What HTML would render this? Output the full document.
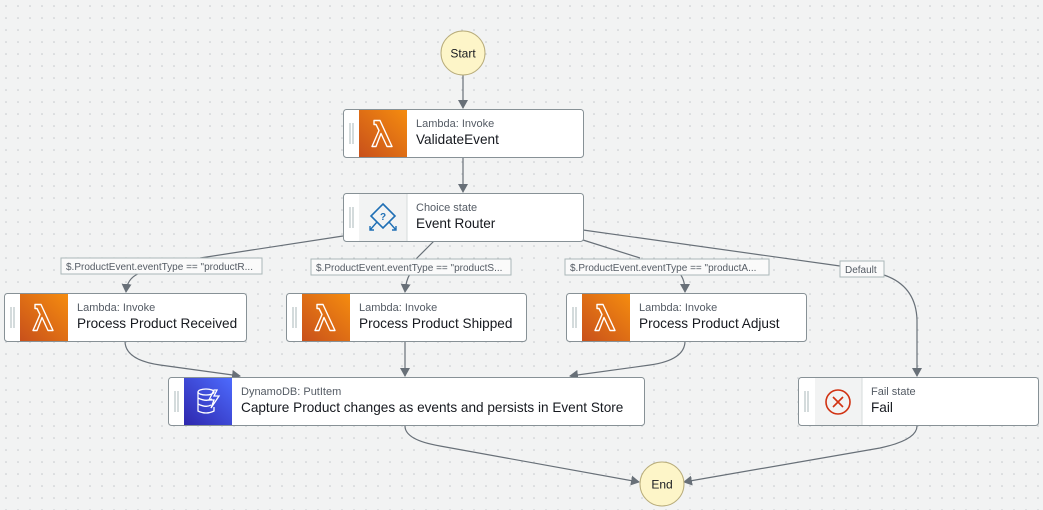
<!DOCTYPE html>
<html><head><meta charset="utf-8">
<style>
html,body{margin:0;padding:0;width:1043px;height:510px;overflow:hidden;background:#f2f3f3;}
svg{display:block;font-family:"Liberation Sans",sans-serif;}
.sub{font-size:11px;fill:#545b64;}
.ttl{font-size:13.6px;fill:#16191f;}
.lbl{font-size:10px;fill:#545b64;}
.edge{fill:none;stroke:#687078;stroke-width:1.2;}
</style></head><body>
<svg width="1043" height="510" viewBox="0 0 1043 510" xmlns="http://www.w3.org/2000/svg">
<defs>
<pattern id="dots" width="12" height="12" patternUnits="userSpaceOnUse">
<circle cx="6" cy="6" r="0.8" fill="#c3c7ca"/></pattern>
<marker id="ar" markerWidth="10" markerHeight="10" refX="8" refY="5" orient="auto" markerUnits="userSpaceOnUse">
<path d="M0,0 L9,5 L0,10 z" fill="#687078"/></marker>
<linearGradient id="or" x1="1" y1="0" x2="0" y2="1"><stop offset="0" stop-color="#f58c0f"/><stop offset="1" stop-color="#c8501b"/></linearGradient>
<linearGradient id="bl" x1="1" y1="0" x2="0" y2="1"><stop offset="0" stop-color="#4d6bfe"/><stop offset="1" stop-color="#2e27ad"/></linearGradient>
<g id="lam"><path d="M-9,-13 L-3,-13 L9,13 L4,13 L-2,0 L-7,13 L-11,13 L-4,-3 L-7,-9 L-9,-9 Z" fill="none" stroke="#fff" stroke-width="1.4" stroke-linejoin="round"/></g>
</defs>
<rect width="1043" height="510" fill="url(#dots)"/>

<path class="edge" d="M463,75 L463,108" marker-end="url(#ar)"/>
<path class="edge" d="M463,157 L463,192" marker-end="url(#ar)"/>
<path class="edge" d="M343,236 L200,258"/>
<path class="edge" d="M140,273 Q127,278 126,292" marker-end="url(#ar)"/>
<path class="edge" d="M434,241 L416,259"/>
<path class="edge" d="M410,274 Q406,280 405,292" marker-end="url(#ar)"/>
<path class="edge" d="M583,240 L640,258"/>
<path class="edge" d="M680,274 Q685,280 685,292" marker-end="url(#ar)"/>
<path class="edge" d="M583,230 L840,266"/>
<path class="edge" d="M884,275 Q916,286 917,320 L917,376" marker-end="url(#ar)"/>
<path class="edge" d="M125,341 Q125,360 160,365 L240,376" marker-end="url(#ar)"/>
<path class="edge" d="M405,341 L405,376" marker-end="url(#ar)"/>
<path class="edge" d="M685,341 Q685,360 650,365 L570,376" marker-end="url(#ar)"/>
<path class="edge" d="M405,426 Q405,440 440,446 L639,482" marker-end="url(#ar)"/>
<path class="edge" d="M917,426 Q917,440 880,448 L684,482" marker-end="url(#ar)"/>

<rect x="61" y="258" width="201" height="16" fill="#fafafa" stroke="#aab7b8"/>
<text class="lbl" x="66" y="270">$.ProductEvent.eventType == "productR...</text>
<rect x="311" y="259" width="200" height="16" fill="#fafafa" stroke="#aab7b8"/>
<text class="lbl" x="316" y="271">$.ProductEvent.eventType == "productS...</text>
<rect x="565" y="259" width="204" height="16" fill="#fafafa" stroke="#aab7b8"/>
<text class="lbl" x="570" y="271">$.ProductEvent.eventType == "productA...</text>
<rect x="840" y="261" width="44" height="16" fill="#fafafa" stroke="#aab7b8"/>
<text class="lbl" x="845" y="273">Default</text>

<circle cx="463" cy="53" r="22" fill="#fdf5c8" stroke="#b8ac7a"/>
<text x="463" y="57.5" text-anchor="middle" font-size="12" fill="#16191f">Start</text>
<circle cx="662" cy="484" r="22" fill="#fdf5c8" stroke="#b8ac7a"/>
<text x="662" y="488.5" text-anchor="middle" font-size="12" fill="#16191f">End</text>

<g transform="translate(343,109)">
<rect x="0.5" y="0.5" width="240" height="48" rx="3" fill="#fff" stroke="#879196"/>
<path d="M7,14 V35 M10,14 V35" stroke="#aab7b8"/>
<rect x="16" y="1" width="48" height="47" fill="url(#or)"/>
<use href="#lam" x="40" y="24.5"/>
<text class="sub" x="73" y="18">Lambda: Invoke</text>
<text class="ttl" x="73" y="35">ValidateEvent</text>
</g>
<g transform="translate(343,193)">
<rect x="0.5" y="0.5" width="240" height="48" rx="3" fill="#fff" stroke="#879196"/>
<path d="M7,14 V35 M10,14 V35" stroke="#aab7b8"/>
<rect x="16" y="1" width="48" height="47" fill="#f2f3f3"/>
<line x1="64" y1="1" x2="64" y2="48" stroke="#d5dbdb"/>
<path d="M40,11 L52,23 L40,35 L28,23 Z" fill="none" stroke="#1f6fb5" stroke-width="1.6"/>
<text x="40" y="27" text-anchor="middle" font-size="10" font-weight="bold" fill="#1f6fb5">?</text>
<path d="M34,29 L27,37 M27,33 V37 H31 M46,29 L53,37 M53,33 V37 H49" fill="none" stroke="#1f6fb5" stroke-width="1.4"/>
<text class="sub" x="73" y="18">Choice state</text>
<text class="ttl" x="73" y="35">Event Router</text>
</g>
<g transform="translate(4,293)">
<rect x="0.5" y="0.5" width="242" height="48" rx="3" fill="#fff" stroke="#879196"/>
<path d="M7,14 V35 M10,14 V35" stroke="#aab7b8"/>
<rect x="16" y="1" width="48" height="47" fill="url(#or)"/>
<use href="#lam" x="40" y="24.5"/>
<text class="sub" x="73" y="18">Lambda: Invoke</text>
<text class="ttl" x="73" y="35">Process Product Received</text>
</g>
<g transform="translate(286,293)">
<rect x="0.5" y="0.5" width="240" height="48" rx="3" fill="#fff" stroke="#879196"/>
<path d="M7,14 V35 M10,14 V35" stroke="#aab7b8"/>
<rect x="16" y="1" width="48" height="47" fill="url(#or)"/>
<use href="#lam" x="40" y="24.5"/>
<text class="sub" x="73" y="18">Lambda: Invoke</text>
<text class="ttl" x="73" y="35">Process Product Shipped</text>
</g>
<g transform="translate(566,293)">
<rect x="0.5" y="0.5" width="240" height="48" rx="3" fill="#fff" stroke="#879196"/>
<path d="M7,14 V35 M10,14 V35" stroke="#aab7b8"/>
<rect x="16" y="1" width="48" height="47" fill="url(#or)"/>
<use href="#lam" x="40" y="24.5"/>
<text class="sub" x="73" y="18">Lambda: Invoke</text>
<text class="ttl" x="73" y="35">Process Product Adjust</text>
</g>
<g transform="translate(168,377)">
<rect x="0.5" y="0.5" width="476" height="48" rx="3" fill="#fff" stroke="#879196"/>
<path d="M7,14 V35 M10,14 V35" stroke="#aab7b8"/>
<rect x="16" y="1" width="48" height="47" fill="url(#bl)"/>
<g fill="none" stroke="#fff" stroke-width="1.3">
<ellipse cx="38" cy="15" rx="8" ry="3"/>
<path d="M30,15 V34 Q38,38 46,34 V30 M30,21 Q38,25 44,22 M30,27 Q38,31 43,28"/>
<path d="M46,13 L41,23 H46 L43,31 L51,19 H46 L49,13 Z"/>
</g>
<text class="sub" x="73" y="18">DynamoDB: PutItem</text>
<text class="ttl" x="73" y="35">Capture Product changes as events and persists in Event Store</text>
</g>
<g transform="translate(798,377)">
<rect x="0.5" y="0.5" width="240" height="48" rx="3" fill="#fff" stroke="#879196"/>
<path d="M7,14 V35 M10,14 V35" stroke="#aab7b8"/>
<rect x="17" y="1" width="47" height="47" fill="#f2f3f3"/>
<line x1="64" y1="1" x2="64" y2="48" stroke="#d5dbdb"/>
<circle cx="40" cy="25" r="12" fill="none" stroke="#d13212" stroke-width="1.6"/>
<path d="M35,20 L45,30 M45,20 L35,30" stroke="#d13212" stroke-width="1.6"/>
<text class="sub" x="73" y="18">Fail state</text>
<text class="ttl" x="73" y="35">Fail</text>
</g>
</svg>
</body></html>
